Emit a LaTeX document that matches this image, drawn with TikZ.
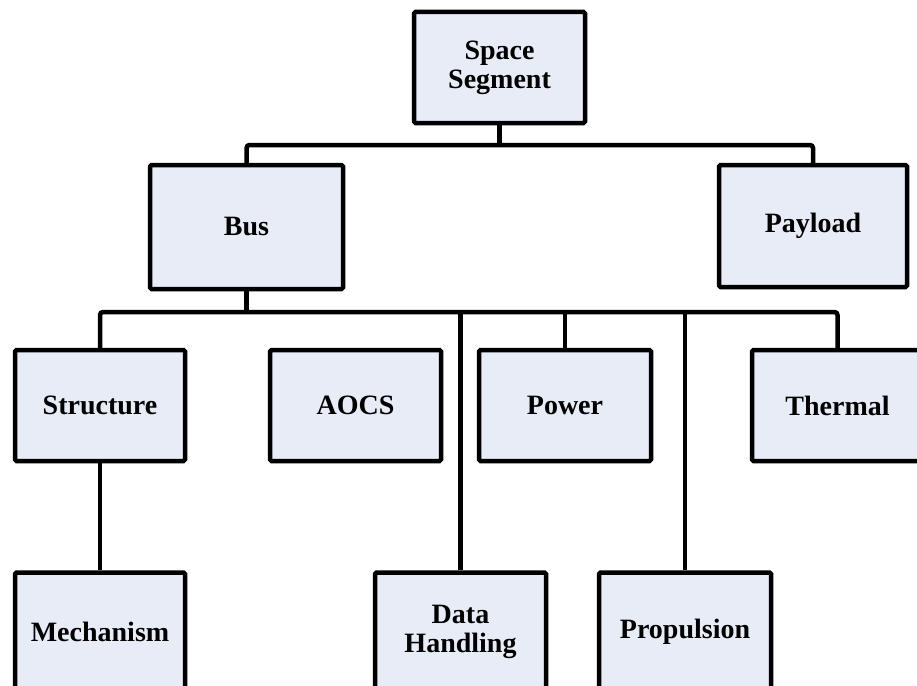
\documentclass[tikz,border=0pt]{standalone}
\usepackage{fontspec}
\setmainfont{Liberation Serif}
\definecolor{boxfill}{RGB}{231,236,247}
\begin{document}
\begin{tikzpicture}[x=1pt,y=-1pt,
  box/.style={draw, fill=boxfill, line width=4.5pt, rounded corners=1.5pt,
    minimum width=171pt, minimum height=111pt, align=center,
    font=\fontsize{28}{29}\selectfont\bfseries},
  low/.style={minimum height=119pt},
  link/.style={line width=4.5pt, rounded corners=3pt}]
\useasboundingbox (0,0) rectangle (917,685);
% top
\node[box] (seg) at (499.5,67.5) {Space\\Segment};
\node[box, minimum width=193pt, minimum height=124pt] (bus) at (246.5,227) {Bus};
\node[box, minimum width=188pt, minimum height=122pt] (pay) at (813,226) {Payload};
% subsystems
\node[box, minimum width=170pt] (str) at (100,405.5) {Structure};
\node[box] (aocs) at (355.5,405.5) {AOCS};
\node[box, minimum width=172pt] (pow) at (565,405.5) {Power};
\node[box] (therm) at (837.5,405.5) {Thermal};
\node[box, low, minimum width=170pt] (mech) at (100,632) {Mechanism};
\node[box, low] (data) at (460.5,632) {Data\\Handling};
\node[box, low, minimum width=172pt] (prop) at (685,632) {Propulsion};
% connectors
\coordinate (top) at (seg.south |- 0,145);
\coordinate (mid) at (bus.south |- 0,312);
\draw[link] (seg.south) -- (top);
\draw[link] (bus.north) |- (top) -| (pay.north);
\draw[link] (bus.south) -- (mid);
\draw[link] (str.north) |- (mid) -| (therm.north);
\draw[link] (pow.north) -- (pow.north |- mid);
\draw[link] (data.north) -- (data.north |- mid);
\draw[link] (prop.north) -- (prop.north |- mid);
\draw[link] (str.south) -- (mech.north);
\end{tikzpicture}
\end{document}
